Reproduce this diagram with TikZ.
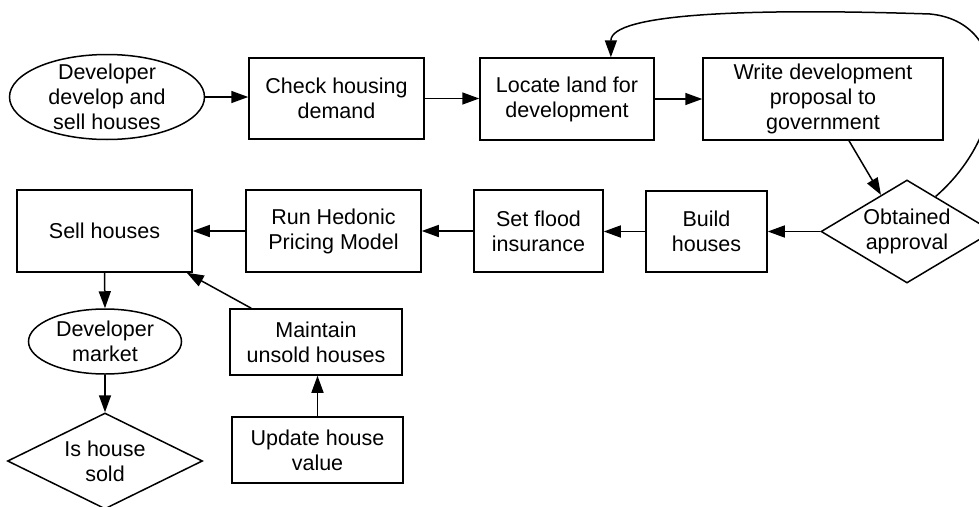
\documentclass[tikz,border=0pt]{standalone}
\usepackage{fontspec}
\setmainfont{Liberation Sans}
\usetikzlibrary{shapes.geometric,arrows.meta,calc}
\begin{document}
\begin{tikzpicture}[x=1pt,y=-1pt,
  every node/.style={font=\fontsize{21.5}{25}\selectfont, align=center},
  box/.style={draw, line width=1.5pt, rectangle, inner sep=0pt},
  ell/.style={draw, line width=1.5pt, ellipse, inner sep=0pt},
  dia/.style={draw, line width=1.5pt, diamond, inner sep=0pt},
  arr/.style={line width=1.5pt, -{Triangle[length=17pt,width=12pt]}}
]
\useasboundingbox (0,0) rectangle (979,506);
\clip (0,0) rectangle (979,506);

% top row
\node[ell, minimum width=195pt, minimum height=85pt,
  label={center:Developer\\develop and\\sell houses}] (dev) at (107,97) {};
\node[box, minimum width=175pt, minimum height=81pt] (check) at (336.5,98.5) {Check housing\\demand};
\node[box, minimum width=174pt, minimum height=82pt] (loc) at (567,99) {Locate land for\\development};
\node[box, minimum width=240pt, minimum height=82pt] (write) at (823,99) {Write development\\proposal to\\government};

% middle row
\node[dia, minimum width=172pt, minimum height=103pt,
  label={center:Obtained\\approval}] (obt) at (907,231.5) {};
\node[box, minimum width=121pt, minimum height=81pt] (build) at (706.5,231.5) {Build\\houses};
\node[box, minimum width=129pt, minimum height=82pt] (flood) at (538.5,231) {Set flood\\insurance};
\node[box, minimum width=175pt, minimum height=82pt] (run) at (333.5,231) {Run Hedonic\\Pricing Model};
\node[box, minimum width=175pt, minimum height=82pt] (sell) at (104.5,231) {Sell houses};

% bottom part
\node[ell, minimum width=153pt, minimum height=65pt,
  label={center:Developer\\market}] (mkt) at (105,341.5) {};
\node[dia, minimum width=195pt, minimum height=96pt,
  label={center:Is house\\sold}] (sold) at (105,461) {};
\node[box, minimum width=172pt, minimum height=66pt] (maint) at (316,342) {Maintain\\unsold houses};
\node[box, minimum width=171pt, minimum height=66pt] (upd) at (317.5,450) {Update house\\value};

% connectors
\draw[arr] (dev.east) -- (dev.east -| check.west);
\draw[arr] (check.east) -- (check.east -| loc.west);
\draw[arr] (loc.east) -- (write.west);
\draw[arr] ($(write.south)+(26,0)$) -- ($(obt.north)!0.3!(obt.west)$);
\draw[arr] ($(obt.north)!0.33!(obt.east)$) .. controls (1012,130) and (1012,22) .. (930,14)
  .. controls (750,8) and ($(loc.north)!0.5!(loc.north east)+(0,-44)$) .. ($(loc.north)!0.5!(loc.north east)$);
\draw[arr] (obt.west) -- (obt.west -| build.east);
\draw[arr] (build.west) -- (build.west -| flood.east);
\draw[arr] (flood.west) -- (flood.west -| run.east);
\draw[arr] (run.west) -- (run.west -| sell.east);
\draw[arr] (sell.south) -- (mkt.north);
\draw[arr] (mkt.south) -- (sold.north);
\draw[arr] ($(maint.north west)+(22,0)$) -- ($(sell.south east)+(-6,0)$);
\draw[arr] (upd.north) -- (upd.north |- maint.south);
\end{tikzpicture}
\end{document}
